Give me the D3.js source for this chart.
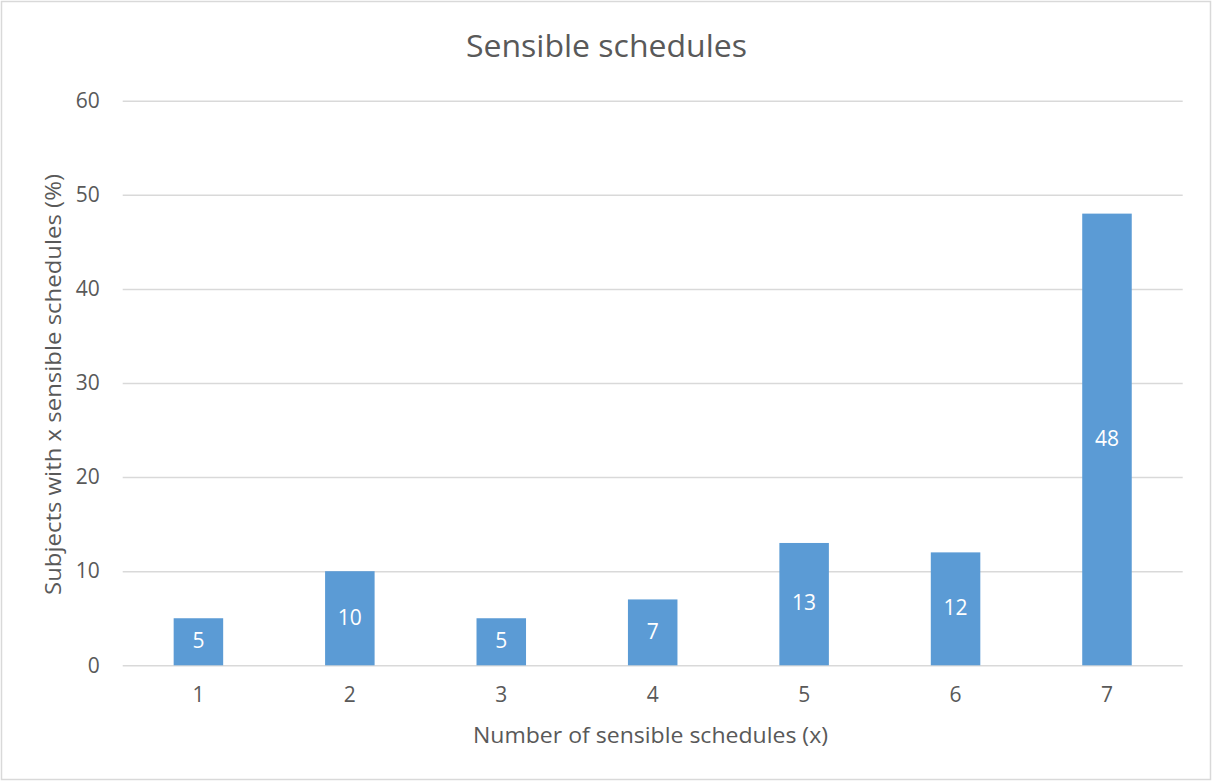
<!DOCTYPE html>
<html>
<head>
<meta charset="utf-8">
<script src="https://cdn.jsdelivr.net/npm/d3@7"></script>
<style>
  html, body { margin: 0; padding: 0; background: #fff; }
  svg { display: block; font-family: "Open Sans", "Noto Sans", sans-serif; }
</style>
</head>
<body>
<svg id="chart" width="1212" height="781"></svg>
<script>
// Share of subjects by number of sensible schedules
const categories = ["1", "2", "3", "4", "5", "6", "7"];
const percentages = [5, 10, 5, 7, 13, 12, 48];
const yTicks = [0, 10, 20, 30, 40, 50, 60];
const chartTitle = "Sensible schedules";
const xTitle = "Number of sensible schedules (x)";
const yTitle = "Subjects with x sensible schedules (%)";

const W = 1212, H = 781;
const plot = { left: 122.7, right: 1182.7, top: 100.7, bottom: 665.3 };
const textColor = "#595959";
const gridColor = "#d9d9d9";
const barColor = "#5b9bd5";

const svg = d3.select("#chart");

// Outer chart frame
svg.append("rect")
  .attr("x", 1.5).attr("y", 1.5)
  .attr("width", W - 3).attr("height", H - 3)
  .attr("fill", "#fff")
  .attr("stroke", gridColor).attr("stroke-width", 1.5);

const x = d3.scaleBand()
  .domain(categories)
  .range([plot.left, plot.right])
  .paddingInner(0.673)
  .paddingOuter(0.3365);

const y = d3.scaleLinear()
  .domain([0, 60])
  .range([plot.bottom, plot.top]);

// Horizontal gridlines with value labels
const yAxis = d3.axisLeft(y)
  .tickValues(yTicks)
  .tickSize(-(plot.right - plot.left))
  .tickPadding(23)
  .tickFormat(d3.format("d"));

const gy = svg.append("g")
  .attr("transform", `translate(${plot.left},0)`)
  .call(yAxis);
gy.select(".domain").remove();
gy.selectAll(".tick line")
  .attr("stroke", gridColor).attr("stroke-width", 1.5);
gy.selectAll(".tick text")
  .attr("fill", textColor)
  .style("font-size", "21px")
  .style("font-family", "'Open Sans', sans-serif");

// Category labels
const xAxis = d3.axisBottom(x).tickSize(0).tickPadding(22);
const gx = svg.append("g")
  .attr("transform", `translate(0,${plot.bottom})`)
  .call(xAxis);
gx.select(".domain").remove();
gx.selectAll(".tick text")
  .attr("fill", textColor)
  .style("font-size", "21px")
  .style("font-family", "'Open Sans', sans-serif");

// Bars
const rows = categories.map((c, i) => ({ c, v: percentages[i] }));
svg.append("g").selectAll("rect")
  .data(rows)
  .join("rect")
  .attr("x", d => x(d.c))
  .attr("width", x.bandwidth())
  .attr("y", d => y(d.v))
  .attr("height", d => y(0) - y(d.v))
  .attr("fill", barColor);

// Value labels centred inside each bar
svg.append("g").selectAll("text")
  .data(rows)
  .join("text")
  .attr("x", d => x(d.c) + x.bandwidth() / 2)
  .attr("y", d => (y(d.v) + y(0)) / 2)
  .attr("dy", "0.3em")
  .attr("text-anchor", "middle")
  .attr("fill", "#fff")
  .style("font-size", "21px")
  .text(d => d.v);

// Chart title
svg.append("text")
  .attr("x", 606.5)
  .attr("y", 57.3)
  .attr("text-anchor", "middle")
  .attr("fill", textColor)
  .style("font-size", "31px")
  .attr("textLength", 281)
  .attr("lengthAdjust", "spacingAndGlyphs")
  .text(chartTitle);

// Axis titles
svg.append("text")
  .attr("x", 650.5)
  .attr("y", 743.3)
  .attr("text-anchor", "middle")
  .attr("fill", textColor)
  .style("font-size", "22.5px")
  .attr("textLength", 355)
  .attr("lengthAdjust", "spacingAndGlyphs")
  .text(xTitle);

svg.append("text")
  .attr("transform", `translate(61,384.5) rotate(-90)`)
  .attr("text-anchor", "middle")
  .attr("fill", textColor)
  .style("font-size", "22.5px")
  .attr("textLength", 421)
  .attr("lengthAdjust", "spacingAndGlyphs")
  .text(yTitle);
</script>
</body>
</html>
